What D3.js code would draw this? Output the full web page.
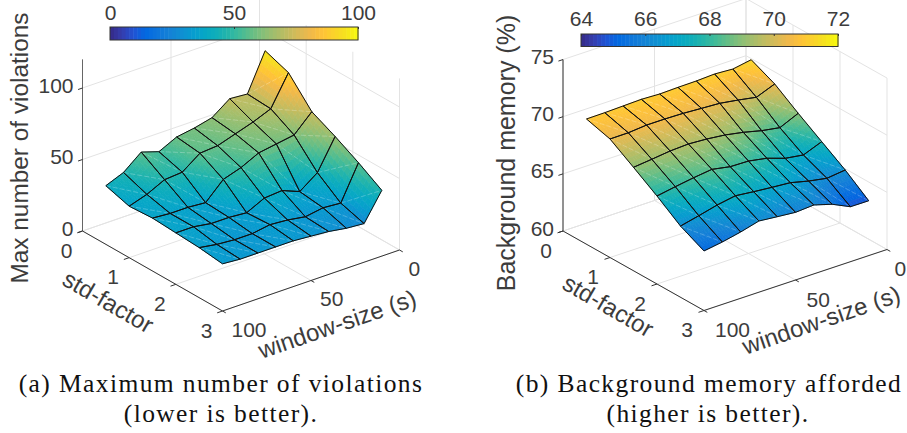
<!DOCTYPE html>
<html>
<head>
<meta charset="utf-8">
<script src="https://cdn.jsdelivr.net/npm/d3@7"></script>
<style>
	html, body { margin: 0; padding: 0; background: #fff; overflow: hidden; }
	svg { display: block; }
	text { font-family: "Liberation Sans", sans-serif; fill: #3c3c3c; }
	.caption { font-family: "Liberation Serif", serif; fill: #111; font-size: 25.5px; letter-spacing: 1.4px; text-anchor: middle; }
</style>
</head>
<body>
<svg id="chart" width="907" height="433"></svg>
<script>
// grid of the two surfaces
var stdFactors = [0.5, 1, 1.5, 2, 2.5, 3];
var windowSizes = [100, 90, 80, 70, 60, 50, 40, 30, 20, 10];

// one row per std-factor, one column per window size
var violations = [
	[41, 46, 56, 52, 58, 60, 63, 72, 71, 97],
	[36, 40, 46, 47, 56, 57, 61, 65, 70, 91],
	[37, 36, 36, 35, 47, 51, 57, 59, 61, 73],
	[36, 36, 34, 34, 33, 39, 40, 35, 44, 65],
	[35, 33, 32, 32, 34, 33, 31, 33, 32, 56],
	[33, 32, 32, 32, 32, 31, 30, 28, 27, 46]
];
var memory = [
	[70.96, 70.98, 71.03, 71.08, 71.01, 71.06, 71.08, 71.16, 71.06, 71.34],
	[70.37, 70.38, 70.52, 70.52, 70.48, 70.38, 70.29, 70.04, 69.75, 70.38],
	[69.05, 69.22, 69.41, 69.49, 69.39, 69.21, 68.91, 68.52, 68.25, 68.97],
	[67.70, 67.98, 68.23, 68.43, 68.13, 68.09, 67.80, 67.26, 67.02, 67.65],
	[66.23, 66.60, 67.00, 67.28, 67.10, 66.95, 66.82, 66.43, 66.14, 66.33],
	[65.21, 65.46, 65.80, 66.23, 66.07, 65.92, 66.03, 65.56, 64.81, 64.80]
];

var stdTicks = [0, 1, 2, 3];
var windowTicks = [0, 50, 100];
var violationTicks = [0, 50, 100];
var memoryTicks = [60, 65, 70, 75];
var violationBarTicks = [0, 50, 100];
var memoryBarTicks = [64, 66, 68, 70, 72];

// parula
var parulaStops = ["#352a87", "#353dad", "#2053d4", "#0268e1", "#0d75dc", "#1481d6", "#108ed2", "#079ccf",
	"#06a7c6", "#0faeb9", "#25b5a9", "#42bb98", "#65be86", "#87bf77", "#a5be6b", "#c0bc60",
	"#d9ba56", "#f1b94a", "#ffc337", "#fad32a", "#f5e41d", "#f9fb0e"];

var svg = d3.select("#chart");
var SUB = 7;

function drawPanel(p) {
	var g = svg.append("g");

	var zDomain = [p.zTicks[0], p.zTop];
	var color = d3.scaleLinear()
		.domain(d3.range(parulaStops.length).map(function(k) {
			return p.cDomain[0] + (p.cDomain[1] - p.cDomain[0]) * k / (parulaStops.length - 1);
		}))
		.range(parulaStops)
		.interpolate(d3.interpolateRgb)
		.clamp(true);

	var stdX = d3.scaleLinear().domain([0, 3]).range([0, p.stdVec[0]]);
	var stdY = d3.scaleLinear().domain([0, 3]).range([0, p.stdVec[1]]);
	var winX = d3.scaleLinear().domain([100, 0]).range([0, p.winVec[0]]);
	var winY = d3.scaleLinear().domain([100, 0]).range([0, p.winVec[1]]);
	var zY = d3.scaleLinear().domain(zDomain).range([0, -p.zHeight]);

	function project(s, w, z) {
		return [p.origin[0] + stdX(s) + winX(w), p.origin[1] + stdY(s) + winY(w) + zY(z)];
	}
	function seg(a, b, stroke, width) {
		g.append("line")
			.attr("x1", a[0]).attr("y1", a[1])
			.attr("x2", b[0]).attr("y2", b[1])
			.attr("stroke", stroke)
			.attr("stroke-width", width);
	}

	var z0 = zDomain[0], z1 = zDomain[1];
	var GRID = "#e3e3e3";

	// back walls and floor
	p.zTicks.forEach(function(z) {
		seg(project(0, 100, z), project(0, 0, z), GRID, 1);
		seg(project(0, 0, z), project(3, 0, z), GRID, 1);
	});
	windowTicks.forEach(function(w) {
		seg(project(0, w, z0), project(0, w, z1), GRID, 1);
		seg(project(0, w, z0), project(3, w, z0), GRID, 1);
	});
	stdTicks.forEach(function(s) {
		seg(project(s, 0, z0), project(s, 0, z1), GRID, 1);
		seg(project(s, 100, z0), project(s, 0, z0), GRID, 1);
	});

	// axes
	seg(project(0, 100, z0), project(0, 100, z1), p.zAxisColor, 1);
	seg(project(0, 100, z0), project(3, 100, z0), "#333", 1);
	seg(project(3, 100, z0), project(3, 0, z0), "#333", 1);

	p.zTicks.forEach(function(z) {
		seg(project(0, 100, z), project(0, 102.5, z), "#333", 1);
		g.append("text")
			.attr("x", p.origin[0] - 9)
			.attr("y", project(0, 100, z)[1] - 3)
			.attr("dy", "0.36em")
			.attr("text-anchor", "end")
			.attr("font-size", p.tickSize)
			.text(z);
	});
	stdTicks.forEach(function(s) {
		seg(project(s, 100, z0), project(s, 103, z0), "#333", 1);
		var q = project(s, 100, z0);
		g.append("text")
			.attr("x", q[0] + p.stdLabel[0])
			.attr("y", q[1] + p.stdLabel[1])
			.attr("dy", "0.36em")
			.attr("text-anchor", "middle")
			.attr("font-size", p.tickSize)
			.text(s);
	});
	windowTicks.forEach(function(w) {
		seg(project(3, w, z0), project(3.07, w, z0), "#333", 1);
		var q = project(3, w, z0);
		g.append("text")
			// keep the last label inside the window
			.attr("x", Math.min(q[0] + p.winLabel[0], 894.5))
			.attr("y", q[1] + p.winLabel[1])
			.attr("dy", "0.36em")
			.attr("text-anchor", "start")
			.attr("font-size", p.tickSize)
			.text(w);
	});

	// axis titles
	g.append("text")
		.attr("transform", "translate(" + p.zTitle[0] + "," + p.zTitle[1] + ") rotate(-90)")
		.attr("text-anchor", "middle")
		.attr("font-size", p.zTitleSize)
		.text(p.zLabel);
	g.append("text")
		.attr("transform", "translate(" + p.stdTitle[0] + "," + p.stdTitle[1] + ") rotate(30)")
		.attr("text-anchor", "middle")
		.attr("font-size", p.titleSize)
		.text("std-factor");
	g.append("text")
		.attr("transform", "translate(" + p.winTitle[0] + "," + p.winTitle[1] + ") rotate(-19)")
		.attr("text-anchor", "middle")
		.attr("font-size", p.titleSize)
		.text("window-size (s)");

	// surface, back to front, each cell cut up to fake interpolated shading
	var surf = g.append("g");
	var mesh = g.append("g");
	var last = stdFactors.length - 1;
	var lastW = windowSizes.length - 1;
	function lerpCell(i, j, u, v) {
		var a = p.values[i][j], b = p.values[i][j + 1], c = p.values[i + 1][j], d = p.values[i + 1][j + 1];
		var z = a * (1 - u) * (1 - v) + b * (1 - u) * v + c * u * (1 - v) + d * u * v;
		var s = stdFactors[i] + (stdFactors[i + 1] - stdFactors[i]) * u;
		var w = windowSizes[j] + (windowSizes[j + 1] - windowSizes[j]) * v;
		return { z: z, xy: project(s, w, z) };
	}
	for (var i = 0; i < last; i++) {
		for (var j = lastW - 1; j >= 0; j--) {
			for (var a = 0; a < SUB; a++) {
				for (var b = SUB - 1; b >= 0; b--) {
					var c1 = lerpCell(i, j, a / SUB, b / SUB),
						c2 = lerpCell(i, j, (a + 1) / SUB, b / SUB),
						c3 = lerpCell(i, j, (a + 1) / SUB, (b + 1) / SUB),
						c4 = lerpCell(i, j, a / SUB, (b + 1) / SUB);
					var col = color((c1.z + c2.z + c3.z + c4.z) / 4);
					surf.append("polygon")
						.attr("points", [c1.xy, c2.xy, c3.xy, c4.xy].map(String).join(" "))
						.attr("fill", col)
						.attr("stroke", col)
						.attr("stroke-width", 0.7);
				}
			}
			// faint seam across the cell
			var d1 = project(stdFactors[i], windowSizes[j], p.values[i][j]);
			var d2 = project(stdFactors[i + 1], windowSizes[j + 1], p.values[i + 1][j + 1]);
			surf.append("line")
				.attr("x1", d1[0]).attr("y1", d1[1])
				.attr("x2", d2[0]).attr("y2", d2[1])
				.attr("stroke", "#fff")
				.attr("stroke-opacity", 0.3)
				.attr("stroke-width", 0.8)
				.attr("stroke-dasharray", "5 2");
			// mesh goes in its own group so later cells do not eat half the line
			var pts = [[i, j], [i + 1, j], [i + 1, j + 1], [i, j + 1]].map(function(k) {
				return project(stdFactors[k[0]], windowSizes[k[1]], p.values[k[0]][k[1]]);
			});
			mesh.append("polygon")
				.attr("points", pts.map(String).join(" "))
				.attr("fill", "none")
				.attr("stroke", "#111")
				.attr("stroke-width", 1)
				.attr("stroke-linejoin", "round");
		}
	}

	// colorbar
	var bar = p.bar;
	var barX = d3.scaleLinear().domain(p.cDomain).range([bar.x0, bar.x1]);
	var steps = d3.range(64);
	g.append("g").selectAll("rect")
		.data(steps)
		.enter()
		.append("rect")
		.attr("x", function(k) { return barX(p.cDomain[0] + (p.cDomain[1] - p.cDomain[0]) * k / 64); })
		.attr("y", bar.y)
		.attr("width", (bar.x1 - bar.x0) / 64 + 0.5)
		.attr("height", bar.h)
		.attr("fill", function(k) { return color(p.cDomain[0] + (p.cDomain[1] - p.cDomain[0]) * (k + 0.5) / 64); });
	g.append("rect")
		.attr("x", bar.x0).attr("y", bar.y)
		.attr("width", bar.x1 - bar.x0).attr("height", bar.h)
		.attr("fill", "none")
		.attr("stroke", "#333")
		.attr("stroke-width", 1);
	var barAxis = g.append("g")
		.attr("transform", "translate(0," + bar.y + ")")
		.call(d3.axisTop(barX).tickValues(p.barTicks).tickSize(-2).tickPadding(bar.pad).tickFormat(d3.format("d")));
	barAxis.select(".domain").remove();
	barAxis.selectAll("line").attr("stroke", "#333");
	barAxis.selectAll("text")
		.attr("font-size", p.tickSize)
		.attr("font-family", "Liberation Sans")
		.attr("fill", "#3c3c3c");
}

drawPanel({
	values: violations,
	origin: [82.5, 231],
	stdVec: [140, 80],
	winVec: [177, -61],
	zTicks: violationTicks,
	zTop: 120,
	zHeight: 171.6,
	zAxisColor: "#666",
	cDomain: [0, 100],
	barTicks: violationBarTicks,
	bar: { x0: 110, x1: 358, y: 27, h: 13, pad: 7.5 },
	tickSize: 21,
	titleSize: 24,
	zTitleSize: 24.4,
	zLabel: "Max number of violations",
	zTitle: [28, 148],
	stdTitle: [104, 309],
	winTitle: [340, 332],
	stdLabel: [-16, 19],
	winLabel: [9, 18]
});

drawPanel({
	values: memory,
	origin: [563, 231],
	stdVec: [141, 79.5],
	winVec: [183, -61],
	zTicks: memoryTicks,
	zTop: 75,
	zHeight: 171.45,
	zAxisColor: "#333",
	cDomain: [64, 72],
	barTicks: memoryBarTicks,
	bar: { x0: 581, x1: 838, y: 34, h: 12.5, pad: 8 },
	tickSize: 21,
	titleSize: 24,
	zTitleSize: 25,
	zLabel: "Background memory (%)",
	zTitle: [515, 153],
	stdTitle: [604, 313],
	winTitle: [824, 328],
	stdLabel: [-17, 19],
	winLabel: [11, 19]
});

// captions, from the paper figure
var captions = [
	{ x: 221, y: 392, t: "(a) Maximum number of violations" },
	{ x: 221, y: 422, t: "(lower is better)." },
	{ x: 709, y: 392, t: "(b) Background memory afforded" },
	{ x: 708, y: 422, t: "(higher is better)." }
];
svg.selectAll(".caption")
	.data(captions)
	.enter()
	.append("text")
	.attr("class", "caption")
	.attr("x", function(d) { return d.x; })
	.attr("y", function(d) { return d.y; })
	.text(function(d) { return d.t; });
</script>
</body>
</html>
